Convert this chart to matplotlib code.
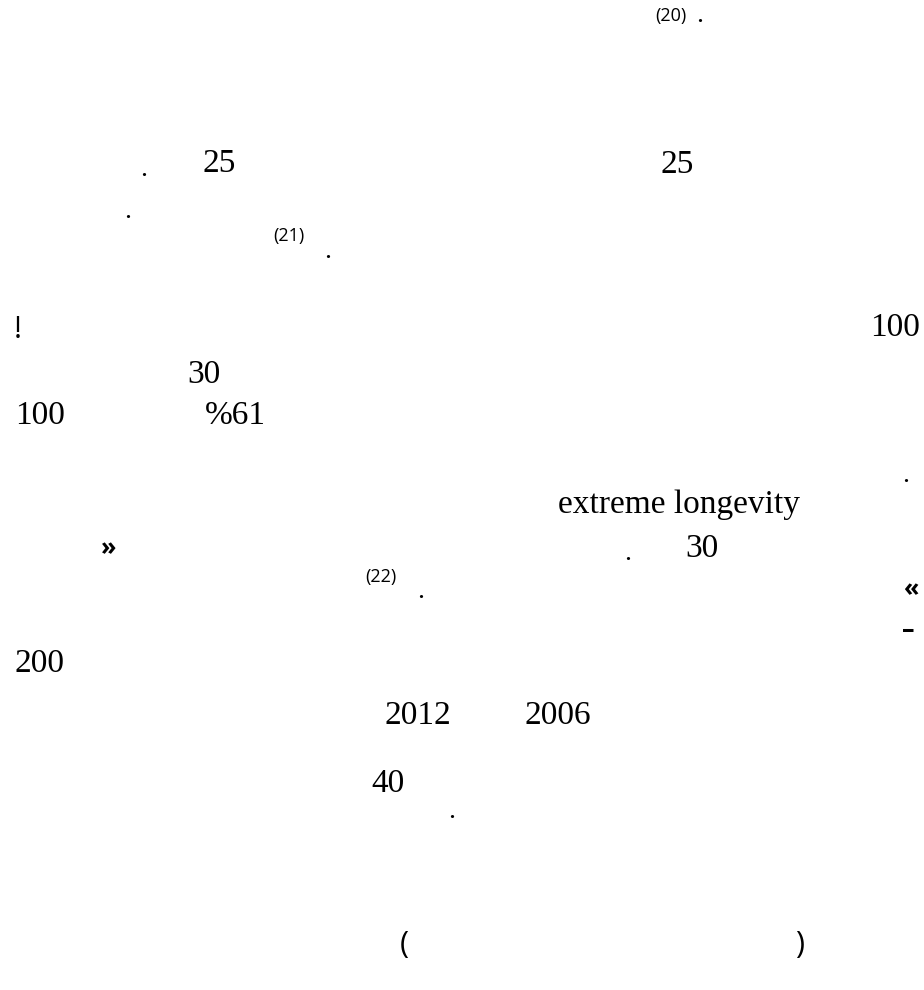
import matplotlib
matplotlib.use("Agg")
import matplotlib.pyplot as plt

W, H = 924, 990

# text tokens visible on the page (Arabic glyphs are missing in the reference)
serif_tokens = ["25", "25", "100", "30", "100", "%61", "extreme longevity",
                "30", "200", "2012", "2006", "40"]
serif_x = [660, 203, 870, 187, 15, 205, 558, 685, 15, 385, 525, 371]
serif_y = [165, 164, 328, 375, 416, 416, 505, 549, 664, 716, 716, 784]

ref_tokens = ["(20)", "(21)", "(22)"]
ref_x = [655, 273, 365]
ref_y = [16, 236, 577]

dot_x = [700, 144, 128, 328, 906, 628, 421, 452]
dot_y = [22, 176, 218, 258, 482, 560, 598, 818]

sym_tokens = ["!", "»", "«", "–", "(", ")"]
sym_x = [14, 101, 904, 902, 400, 795]
sym_y = [330, 549, 590, 631, 945, 945]

fig = plt.figure(figsize=(W / 100, H / 100), dpi=100)
fig.patch.set_facecolor("white")


def fx(x):
    return x / W


def fy(y):
    return 1 - y / H


for t, x, y in zip(serif_tokens, serif_x, serif_y):
    fig.text(fx(x), fy(y), t, family="Liberation Serif", fontsize=24,
             ha="left", va="center", color="black")

for t, x, y in zip(ref_tokens, ref_x, ref_y):
    fig.text(fx(x), fy(y), t, family="Open Sans", fontsize=13,
             ha="left", va="center", color="black")

for x, y in zip(dot_x, dot_y):
    fig.text(fx(x), fy(y), ".", family="Liberation Serif", fontsize=20,
             ha="center", va="baseline", color="black")

for t, x, y in zip(sym_tokens, sym_x, sym_y):
    bold = t in ("»", "«", "–")
    size = 22 if t in ("!", "(", ")") else 18
    fig.text(fx(x), fy(y), t, family="Open Sans", fontsize=size,
             fontweight="bold" if bold else "normal",
             ha="left", va="center", color="black")

fig.savefig("out.png", dpi=100, facecolor="white")
